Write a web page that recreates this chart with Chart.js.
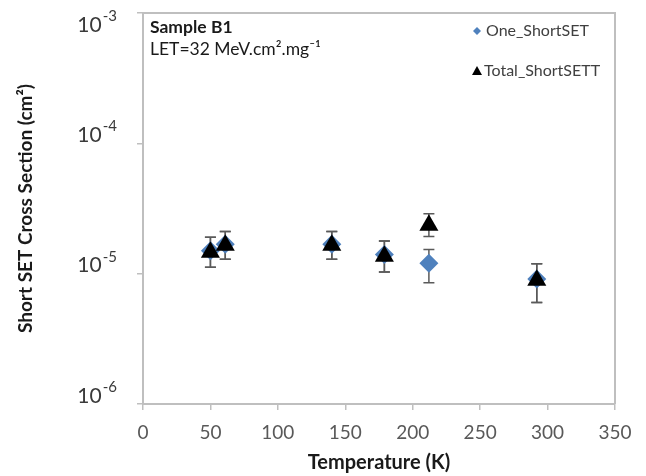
<!DOCTYPE html>
<html>
<head>
<meta charset="utf-8">
<script src="https://cdn.jsdelivr.net/npm/chart.js@4.4.1/dist/chart.umd.min.js"></script>
<style>
html, body { margin: 0; padding: 0; background: #fff; }
</style>
</head>
<body>
<canvas id="myChart" width="646" height="476"></canvas>
<script>
// temperatures (K)
var temps = [50, 61, 140, 179, 212, 292];

// One_ShortSET cross sections (cm2) with error bar ends
var oneVals = [1.50e-5, 1.68e-5, 1.68e-5, 1.40e-5, 1.20e-5, 9.1e-6];
var oneHigh = [1.90e-5, 2.11e-5, 2.11e-5, 1.78e-5, 1.53e-5, 1.19e-5];
var oneLow = [1.12e-5, 1.29e-5, 1.29e-5, 1.03e-5, 8.5e-6, 6.0e-6];

// Total_ShortSETT cross sections (cm2) with error bar ends
var totalVals = [1.46e-5, 1.65e-5, 1.65e-5, 1.36e-5, 2.35e-5, 8.9e-6];
var totalHigh = [1.90e-5, 2.11e-5, 2.11e-5, 1.78e-5, 2.88e-5, 1.19e-5];
var totalLow = [1.12e-5, 1.29e-5, 1.29e-5, 1.03e-5, 1.93e-5, 6.0e-6];

// y ticks: base 10 with exponent
var yTicks = [1e-6, 1e-5, 1e-4, 1e-3];
var yTickExp = ['-6', '-5', '-4', '-3'];

var FONT = 'Lato, "Noto Sans", "DejaVu Sans", sans-serif';
var axisGrey = '#bfbfbf';

function points(vals) {
    return temps.map(function (t, i) { return { x: t, y: vals[i] }; });
}

// error bars, drawn under the markers
var errorBars = {
    id: 'errorBars',
    beforeDatasetsDraw: function (chart) {
        var ctx = chart.ctx;
        var xs = chart.scales.x, ys = chart.scales.y;
        ctx.save();
        ctx.strokeStyle = '#5a5a5a';
        ctx.lineWidth = 1.5;
        chart.data.datasets.forEach(function (ds) {
            temps.forEach(function (t, i) {
                var px = xs.getPixelForValue(t);
                var top = ys.getPixelForValue(ds.errHigh[i]);
                var bot = ys.getPixelForValue(ds.errLow[i]);
                ctx.beginPath();
                ctx.moveTo(px, top); ctx.lineTo(px, bot);
                ctx.moveTo(px - 5.5, top); ctx.lineTo(px + 5.5, top);
                ctx.moveTo(px - 5.5, bot); ctx.lineTo(px + 5.5, bot);
                ctx.stroke();
            });
        });
        ctx.restore();
    }
};

// box round the plot, y labels with exponents, sample text and legend
var plotDecor = {
    id: 'plotDecor',
    afterDraw: function (chart) {
        var ctx = chart.ctx, a = chart.chartArea, ys = chart.scales.y;
        ctx.save();
        ctx.strokeStyle = axisGrey;
        ctx.lineWidth = 2;
        ctx.beginPath();
        ctx.moveTo(a.left, a.top); ctx.lineTo(a.right, a.top); ctx.lineTo(a.right, a.bottom);
        ctx.stroke();

        // y tick labels 10^n
        ctx.textBaseline = 'middle';
        ctx.textAlign = 'right';
        ctx.fillStyle = '#3a3a3a';
        yTicks.forEach(function (v, i) {
            var py = Math.max(ys.getPixelForValue(v) - 8, a.top + 12);
            var rx = a.left - 26;
            ctx.font = '15px ' + FONT;
            var ew = ctx.measureText(yTickExp[i]).width;
            ctx.fillText(yTickExp[i], rx, py - 9);
            ctx.font = '21px ' + FONT;
            ctx.fillText('10', rx - ew - 1, py);
        });

        ctx.fillStyle = '#1a1a1a';
        ctx.textAlign = 'left';
        ctx.font = 'bold 17.5px ' + FONT;
        ctx.fillText('Sample B1', a.left + 7, a.top + 14);
        ctx.font = '17.5px ' + FONT;
        ctx.fillText('LET=32 MeV.cm\u00B2.mg\u207B\u00B9', a.left + 7, a.top + 36);

        ctx.font = '16px ' + FONT;
        var lx = a.right - 138;
        // One_ShortSET
        ctx.fillStyle = '#4f81bd';
        ctx.beginPath();
        ctx.moveTo(lx, a.top + 14); ctx.lineTo(lx + 4, a.top + 18);
        ctx.lineTo(lx, a.top + 22); ctx.lineTo(lx - 4, a.top + 18);
        ctx.closePath(); ctx.fill();
        ctx.fillStyle = '#404040';
        ctx.fillText('One_ShortSET', lx + 9, a.top + 18);
        // Total_ShortSETT
        ctx.fillStyle = '#000';
        ctx.beginPath();
        ctx.moveTo(lx, a.top + 53); ctx.lineTo(lx + 5, a.top + 62);
        ctx.lineTo(lx - 5, a.top + 62);
        ctx.closePath(); ctx.fill();
        ctx.fillStyle = '#404040';
        ctx.fillText('Total_ShortSETT', lx + 7, a.top + 58);
        ctx.restore();
    }
};

new Chart('myChart', {
    type: 'scatter',
    data: {
        datasets: [
            {
                label: 'One_ShortSET',
                data: points(oneVals),
                errHigh: oneHigh,
                errLow: oneLow,
                pointStyle: 'rectRot',
                pointRadius: 9.5,
                backgroundColor: '#4f81bd',
                borderColor: '#4f81bd',
                borderWidth: 0,
                order: 2
            },
            {
                label: 'Total_ShortSETT',
                data: points(totalVals),
                errHigh: totalHigh,
                errLow: totalLow,
                pointStyle: 'triangle',
                pointRadius: 11,
                backgroundColor: '#000',
                borderColor: '#000',
                borderWidth: 0,
                order: 1
            }
        ]
    },
    options: {
        responsive: false,
        animation: false,
        layout: { padding: { left: 0, top: 13, right: 31, bottom: 0 } },
        plugins: {
            legend: { display: false },
            tooltip: { enabled: false }
        },
        scales: {
            x: {
                type: 'linear',
                min: 0,
                max: 350,
                afterFit: function (scale) { scale.height = 72; },
                ticks: {
                    stepSize: 50,
                    color: '#595959',
                    padding: 11,
                    font: { family: FONT, size: 19 }
                },
                grid: { drawOnChartArea: false, tickLength: 6, color: axisGrey, lineWidth: 1.5 },
                border: { color: axisGrey, width: 2 },
                title: {
                    display: true,
                    text: 'Temperature (K)',
                    color: '#1a1a1a',
                    padding: { top: 0, bottom: 1 },
                    font: { family: FONT, size: 20, weight: 'bold' }
                }
            },
            y: {
                type: 'logarithmic',
                min: 1e-6,
                max: 1e-3,
                afterFit: function (scale) { scale.width = 143; },
                afterBuildTicks: function (scale) {
                    scale.ticks = yTicks.map(function (v) { return { value: v, major: true }; });
                },
                ticks: { display: false },
                grid: { drawOnChartArea: false, tickLength: 6, color: axisGrey, lineWidth: 1.5 },
                border: { color: axisGrey, width: 2 },
                title: {
                    display: true,
                    text: 'Short SET Cross Section (cm\u00B2)',
                    color: '#1a1a1a',
                    padding: { top: 14, bottom: 0 },
                    font: { family: FONT, size: 19, weight: 'bold' }
                }
            }
        }
    },
    plugins: [errorBars, plotDecor]
});
</script>
</body>
</html>
